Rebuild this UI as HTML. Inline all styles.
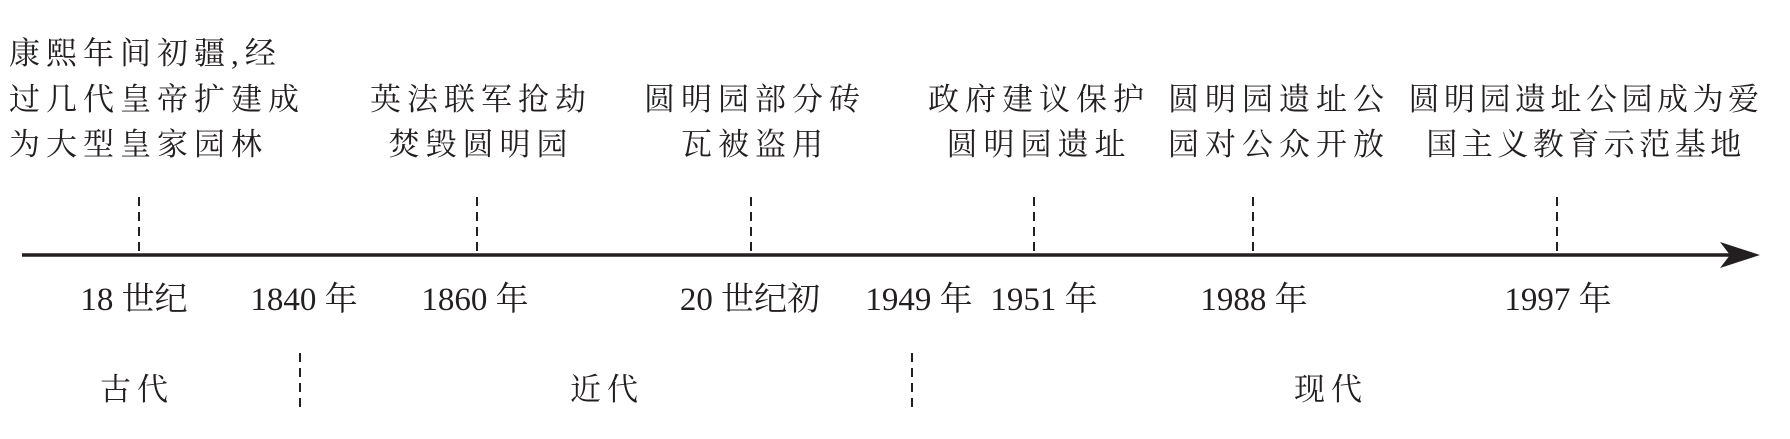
<!DOCTYPE html>
<html><head><meta charset="utf-8"><style>
html,body{margin:0;padding:0;background:#fff;}
svg text{font-family:"Liberation Serif","Noto Serif CJK SC",serif;fill:#231f20;font-size:31px;}
.c{text-anchor:middle;}
.y{font-size:33px;}
</style></head><body>
<svg width="1790" height="434" viewBox="0 0 1790 434" xmlns="http://www.w3.org/2000/svg">
<line x1="22" y1="255" x2="1740" y2="255" stroke="#231f20" stroke-width="3.5"/>
<path d="M1760 255 L1720 242 L1730 255 L1720 268 Z" fill="#231f20"/>
<g stroke="#231f20" stroke-width="2" stroke-dasharray="9,6">
<line x1="139" y1="197" x2="139" y2="254"/>
<line x1="477" y1="197" x2="477" y2="254"/>
<line x1="751" y1="197" x2="751" y2="254"/>
<line x1="1034" y1="197" x2="1034" y2="254"/>
<line x1="1253" y1="197" x2="1253" y2="254"/>
<line x1="1557" y1="197" x2="1557" y2="254"/>
<line x1="300" y1="353" x2="300" y2="413"/>
<line x1="912" y1="353" x2="912" y2="413"/>
</g>
<g letter-spacing="6">
<text x="9" y="64">康熙年间初疆,经</text>
<text x="9" y="110">过几代皇帝扩建成</text>
<text x="9" y="155">为大型皇家园林</text>
<text class="c" x="481" y="110">英法联军抢劫</text>
<text class="c" x="481" y="155">焚毁圆明园</text>
<text class="c" x="755" y="110">圆明园部分砖</text>
<text class="c" x="755" y="155">瓦被盗用</text>
<text class="c" x="1039" y="110">政府建议保护</text>
<text class="c" x="1039" y="155">圆明园遗址</text>
<text x="1168" y="110">圆明园遗址公</text>
<text x="1168" y="155">园对公众开放</text>
<text class="c" x="137" y="400">古代</text>
<text class="c" x="607" y="400">近代</text>
<text class="c" x="1331" y="400">现代</text>
</g>
<g letter-spacing="4.5">
<text class="c" x="1586" y="110">圆明园遗址公园成为爱</text>
<text class="c" x="1586" y="155">国主义教育示范基地</text>
</g>
<g class="y">
<text class="c y" x="134" y="310">18 世纪</text>
<text class="c y" x="304" y="310">1840 年</text>
<text class="c y" x="475" y="310">1860 年</text>
<text class="c y" x="750" y="310">20 世纪初</text>
<text class="c y" x="919" y="310">1949 年</text>
<text class="c y" x="1044" y="310">1951 年</text>
<text class="c y" x="1254" y="310">1988 年</text>
<text class="c y" x="1558" y="310">1997 年</text>
</g>
</svg>
</body></html>
